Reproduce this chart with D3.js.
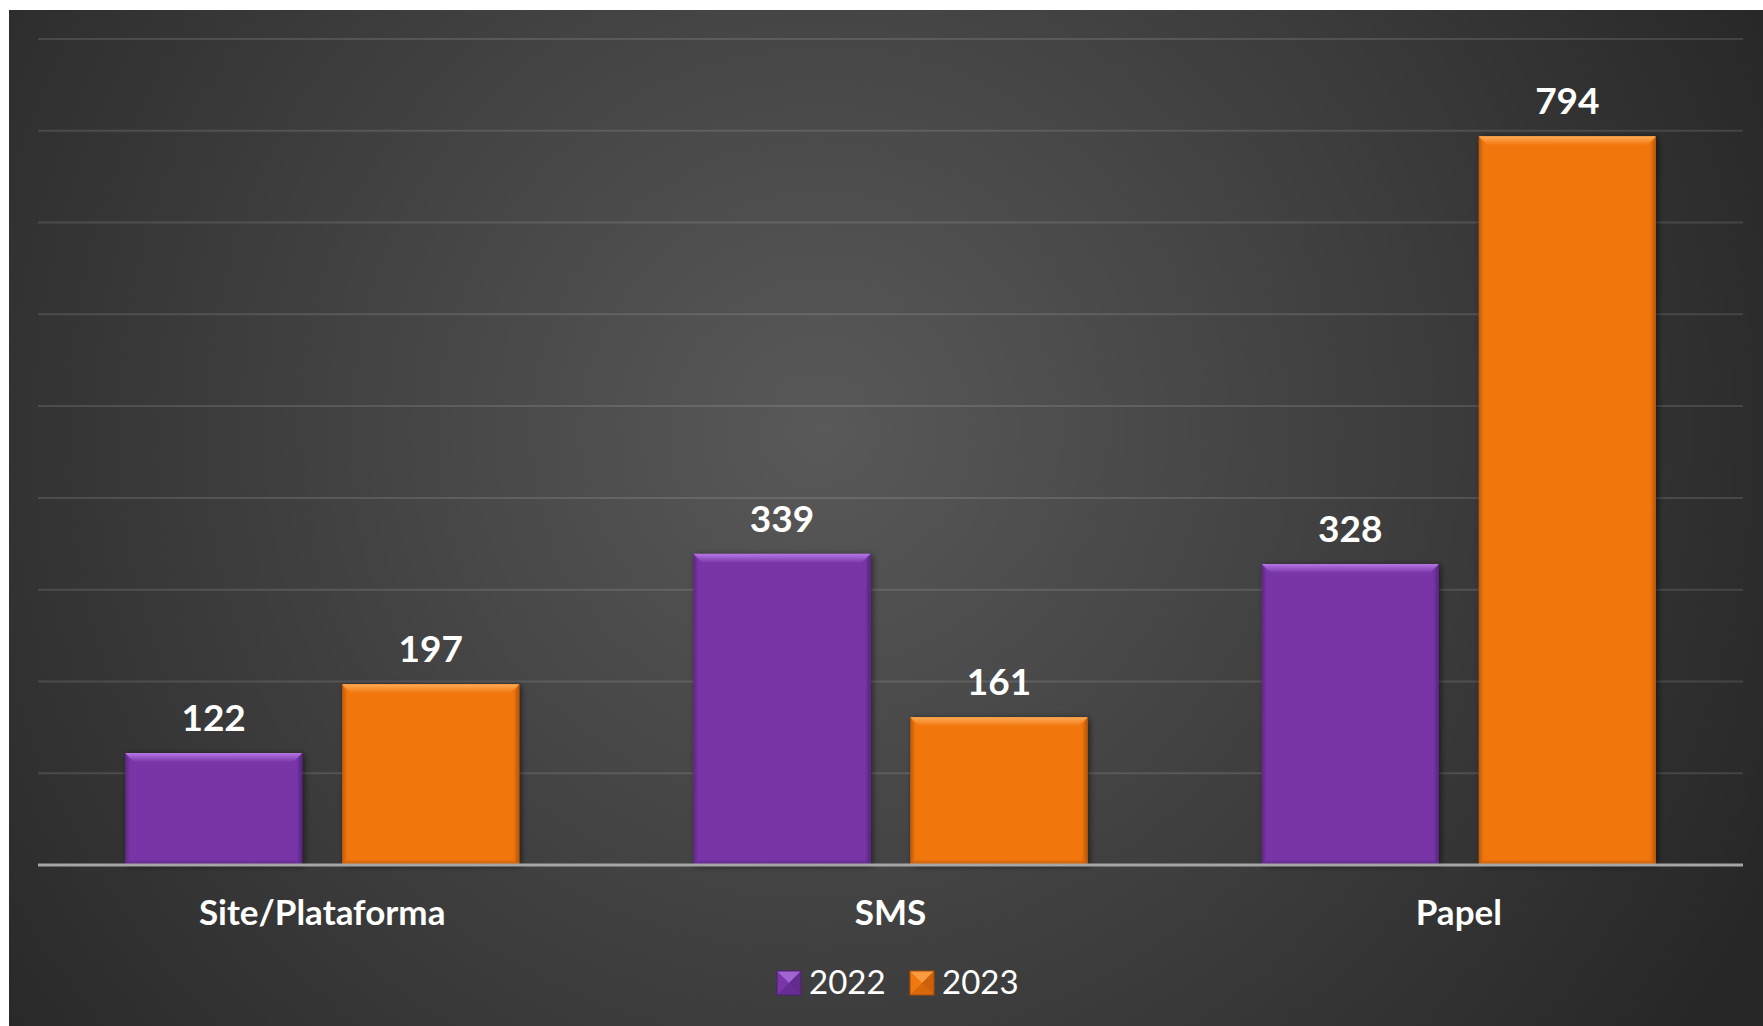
<!DOCTYPE html>
<html>
<head>
<meta charset="utf-8">
<script src="https://cdn.jsdelivr.net/npm/d3@7"></script>
<style>
  html, body { margin: 0; padding: 0; background: #fff; }
  svg { display: block; }
  text { font-family: Lato, "Open Sans", sans-serif; fill: #fff; }
</style>
</head>
<body>
<svg id="chart" width="1763" height="1026"></svg>
<script>
const categories = ["Site/Plataforma", "SMS", "Papel"];
const seriesNames = ["2022", "2023"];
const values2022 = [122, 339, 328];
const values2023 = [197, 161, 794];
const yTicks = [100, 200, 300, 400, 500, 600, 700, 800, 900];

const W = 1763, H = 1026;
const plot = { left: 38, right: 1743, top: 39, bottom: 865 };
const colors = {
  "2022": { main: "#7936a8", light: "#b577e6", dark: "#4e1f72" },
  "2023": { main: "#f1770f", light: "#ffab55", dark: "#a84c05" }
};

const svg = d3.select("#chart");
const defs = svg.append("defs");

const bg = defs.append("radialGradient").attr("id", "bg")
  .attr("gradientUnits", "userSpaceOnUse")
  .attr("cx", 820).attr("cy", 430).attr("r", 1050);
bg.append("stop").attr("offset", "0%").attr("stop-color", "#595959");
bg.append("stop").attr("offset", "100%").attr("stop-color", "#272727");

const sh = defs.append("filter").attr("id", "shadow")
  .attr("x", "-20%").attr("y", "-20%").attr("width", "140%").attr("height", "140%");
sh.append("feDropShadow").attr("dx", 2).attr("dy", 1).attr("stdDeviation", 3)
  .attr("flood-color", "#000").attr("flood-opacity", 0.55);

seriesNames.forEach(s => {
  const c = colors[s];
  const gt = defs.append("linearGradient").attr("id", "top" + s)
    .attr("x1", 0).attr("y1", 0).attr("x2", 0).attr("y2", 1);
  gt.append("stop").attr("offset", "0%").attr("stop-color", c.light);
  gt.append("stop").attr("offset", "100%").attr("stop-color", c.main);
  const gl = defs.append("linearGradient").attr("id", "left" + s)
    .attr("x1", 0).attr("y1", 0).attr("x2", 1).attr("y2", 0);
  gl.append("stop").attr("offset", "0%").attr("stop-color", c.dark);
  gl.append("stop").attr("offset", "100%").attr("stop-color", c.main);
  const gr = defs.append("linearGradient").attr("id", "right" + s)
    .attr("x1", 0).attr("y1", 0).attr("x2", 1).attr("y2", 0);
  gr.append("stop").attr("offset", "0%").attr("stop-color", c.main);
  gr.append("stop").attr("offset", "100%").attr("stop-color", c.dark);
  const gb = defs.append("linearGradient").attr("id", "bot" + s)
    .attr("x1", 0).attr("y1", 0).attr("x2", 0).attr("y2", 1);
  gb.append("stop").attr("offset", "0%").attr("stop-color", c.main);
  gb.append("stop").attr("offset", "100%").attr("stop-color", c.dark);
});

svg.append("rect").attr("width", W).attr("height", H).attr("fill", "#fff");
svg.append("rect").attr("x", 9).attr("y", 10).attr("width", W - 9).attr("height", H - 10).attr("fill", "url(#bg)");

const x0 = d3.scaleBand().domain(categories).range([plot.left, plot.right]).padding(0);
const y = d3.scaleLinear().domain([0, 900]).range([plot.bottom, plot.top]);

// gridlines
svg.append("g").selectAll("line").data(yTicks).join("line")
  .attr("x1", plot.left).attr("x2", plot.right)
  .attr("y1", d => y(d)).attr("y2", d => y(d))
  .attr("stroke", "rgba(255,255,255,0.12)").attr("stroke-width", 2);

const bw = x0.bandwidth();
const barW = bw * 0.3115;
const gap = bw * 0.0704;
const x1 = d3.scaleOrdinal().domain(seriesNames)
  .range([bw / 2 - gap / 2 - barW, bw / 2 + gap / 2]);

const data = [];
categories.forEach((cat, i) => {
  data.push({ cat, s: "2022", v: values2022[i] });
  data.push({ cat, s: "2023", v: values2023[i] });
});

const bars = svg.append("g").selectAll("g.bar").data(data).join("g").attr("class", "bar");
bars.each(function (d) {
  const g = d3.select(this);
  const bx = x0(d.cat) + x1(d.s);
  const by = y(d.v);
  const bh = y(0) - by;
  const b = 9;
  const c = colors[d.s];
  g.append("rect").attr("x", bx).attr("y", by).attr("width", barW).attr("height", bh)
    .attr("fill", c.main).attr("filter", "url(#shadow)");
  g.append("polygon").attr("points", [[bx, by], [bx + barW, by], [bx + barW - b, by + b], [bx + b, by + b]].join(" "))
    .attr("fill", `url(#top${d.s})`);
  g.append("polygon").attr("points", [[bx, by], [bx + 5, by + b], [bx + 5, by + bh - 4], [bx, by + bh]].join(" "))
    .attr("fill", `url(#left${d.s})`).attr("opacity", 0.7);
  g.append("polygon").attr("points", [[bx + barW, by], [bx + barW - 6, by + b], [bx + barW - 6, by + bh - 4], [bx + barW, by + bh]].join(" "))
    .attr("fill", `url(#right${d.s})`).attr("opacity", 0.8);
  g.append("polygon").attr("points", [[bx, by + bh], [bx + 5, by + bh - 6], [bx + barW - 6, by + bh - 6], [bx + barW, by + bh]].join(" "))
    .attr("fill", `url(#bot${d.s})`).attr("opacity", 0.6);
  g.append("text").attr("x", bx + barW / 2).attr("y", by - 22)
    .attr("text-anchor", "middle").attr("font-weight", "bold").attr("font-size", 37)
    .text(d.v);
});

// axis line
svg.append("line").attr("x1", plot.left).attr("x2", plot.right)
  .attr("y1", y(0)).attr("y2", y(0))
  .attr("stroke", "#a6a6a6").attr("stroke-width", 3);

// category labels
svg.append("g").selectAll("text").data(categories).join("text")
  .attr("x", d => x0(d) + bw / 2).attr("y", 925)
  .attr("text-anchor", "middle").attr("font-weight", "bold").attr("font-size", 35)
  .text(d => d);

// legend
const legendItems = [{ s: "2022", x: 777 }, { s: "2023", x: 910 }];
const lg = svg.append("g").selectAll("g").data(legendItems).join("g");
lg.each(function (d) {
  const g = d3.select(this);
  const c = colors[d.s];
  const sx = d.x, sy = 971, ss = 24;
  g.append("rect").attr("x", sx).attr("y", sy).attr("width", ss).attr("height", ss).attr("fill", c.main);
  g.append("polygon").attr("points", [[sx, sy], [sx + ss, sy], [sx + ss / 2, sy + ss / 2]].join(" ")).attr("fill", c.light).attr("opacity", 0.7);
  g.append("polygon").attr("points", [[sx + ss, sy], [sx + ss, sy + ss], [sx + ss / 2, sy + ss / 2]].join(" ")).attr("fill", c.dark).attr("opacity", 0.5);
  g.append("polygon").attr("points", [[sx, sy + ss], [sx + ss, sy + ss], [sx + ss / 2, sy + ss / 2]].join(" ")).attr("fill", c.dark).attr("opacity", 0.35);
  g.append("rect").attr("x", sx).attr("y", sy).attr("width", ss).attr("height", ss).attr("fill", "none").attr("stroke", c.dark).attr("stroke-width", 1);
  g.append("text").attr("x", sx + ss + 8).attr("y", 994).attr("font-size", 33).text(d.s);
});
</script>
</body>
</html>
